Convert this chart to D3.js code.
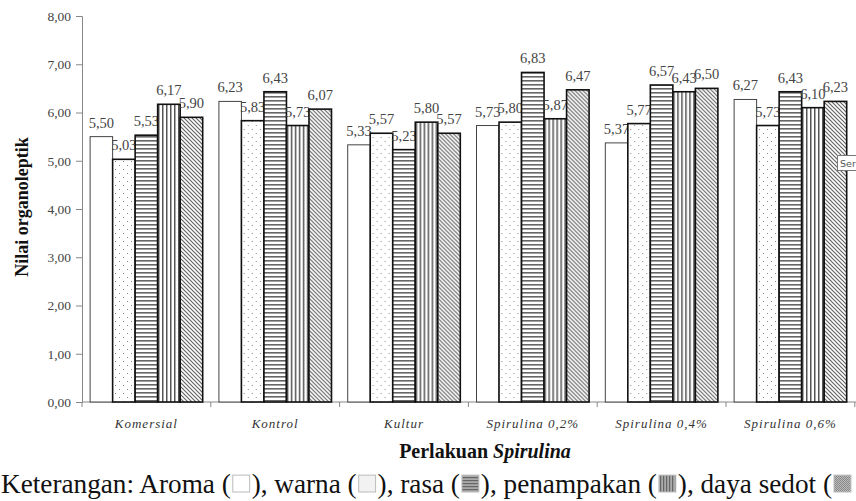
<!DOCTYPE html>
<html>
<head>
<meta charset="utf-8">
<script src="https://cdn.jsdelivr.net/npm/d3@7/dist/d3.min.js"></script>
<style>
  body { margin: 0; background: #fff; }
</style>
</head>
<body>
<div id="chart"></div>
<script>
// data
var categories = ["Komersial", "Kontrol", "Kultur", "Spirulina 0,2%", "Spirulina 0,4%", "Spirulina 0,6%"];
var series = ["Aroma", "warna", "rasa", "penampakan", "daya sedot"];
var aroma      = [5.50, 6.23, 5.33, 5.73, 5.37, 6.27];
var warna      = [5.03, 5.83, 5.57, 5.80, 5.77, 5.73];
var rasa       = [5.53, 6.43, 5.23, 6.83, 6.57, 6.43];
var penampakan = [6.17, 5.73, 5.80, 5.87, 6.43, 6.10];
var dayaSedot  = [5.90, 6.07, 5.57, 6.47, 6.50, 6.23];
var yTicks = [0, 1, 2, 3, 4, 5, 6, 7, 8];

var values = [aroma, warna, rasa, penampakan, dayaSedot];
var SERIF = "'Liberation Serif'";

var W = 856, H = 501;
var svg = d3.select("#chart").append("svg").attr("width", W).attr("height", H);

// patterns
var defs = svg.append("defs");
function pat(id, size, draw) {
    var p = defs.append("pattern").attr("id", id)
        .attr("patternUnits", "userSpaceOnUse")
        .attr("width", size).attr("height", size);
    p.append("rect").attr("width", size).attr("height", size).attr("fill", "#fff");
    draw(p);
}
pat("p-dots", 8, function(p) {
    p.append("rect").attr("x", 1).attr("y", 1).attr("width", 1).attr("height", 1).attr("fill", "#888");
    p.append("rect").attr("x", 5).attr("y", 5).attr("width", 1).attr("height", 1).attr("fill", "#888");
});
pat("p-horiz", 4, function(p) {
    p.append("rect").attr("x", 0).attr("y", 0).attr("width", 4).attr("height", 1.6).attr("fill", "#666");
});
pat("p-vert", 4, function(p) {
    p.append("rect").attr("x", 0).attr("y", 0).attr("width", 1.5).attr("height", 4).attr("fill", "#555");
});
pat("p-diag", 4, function(p) {
    p.append("path").attr("d", "M0,0 L4,4 M-1,3 L1,5 M3,-1 L5,1")
        .attr("stroke", "#666").attr("stroke-width", 1.2);
});
pat("c-horiz", 3, function(p) {
    p.append("rect").attr("width", 3).attr("height", 3).attr("fill", "#aaa");
    p.append("rect").attr("width", 3).attr("height", 1.2).attr("fill", "#666");
});
pat("c-vert", 3, function(p) {
    p.append("rect").attr("width", 3).attr("height", 3).attr("fill", "#aaa");
    p.append("rect").attr("width", 1.2).attr("height", 3).attr("fill", "#666");
});
pat("c-diag", 2, function(p) {
    p.append("rect").attr("width", 2).attr("height", 2).attr("fill", "#bbb");
    p.append("rect").attr("width", 1).attr("height", 1).attr("fill", "#888");
    p.append("rect").attr("x", 1).attr("y", 1).attr("width", 1).attr("height", 1).attr("fill", "#888");
});
var fills = ["#fff", "url(#p-dots)", "url(#p-horiz)", "url(#p-vert)", "url(#p-diag)"];

var margin = {left: 82, top: 16, bottom: 402};
var groupW = 128.8;
var x0 = d3.scaleBand().domain(categories)
    .range([margin.left, margin.left + groupW * categories.length]);
var x1 = d3.scaleBand().domain(series).range([0, x0.bandwidth()]).paddingOuter(0.36);
var y = d3.scaleLinear().domain([0, 8]).range([margin.bottom, margin.top]);

// y axis
var yAxis = d3.axisLeft(y).tickValues(yTicks).tickSize(6)
    .tickFormat(function(d) { return d3.format(".2f")(d).replace(".", ","); });
var gy = svg.append("g").attr("transform", "translate(" + margin.left + ",0)").call(yAxis);
gy.select(".domain").attr("stroke", "#888");
gy.selectAll(".tick line").attr("stroke", "#888");
gy.selectAll(".tick text").attr("font-size", 13.5).attr("fill", "#444").attr("x", -11);

// x axis line and group ticks
svg.append("line").attr("x1", margin.left).attr("x2", W)
    .attr("y1", margin.bottom).attr("y2", margin.bottom).attr("stroke", "#888");
var edges = categories.map(function(c) { return x0(c); });
edges.push(x0(categories[categories.length - 1]) + x0.bandwidth());
svg.selectAll(".gtick").data(edges).enter().append("line")
    .attr("x1", function(d) { return d; }).attr("x2", function(d) { return d; })
    .attr("y1", margin.bottom).attr("y2", margin.bottom + 5).attr("stroke", "#888");

svg.selectAll(".cat").data(categories).enter().append("text")
    .attr("x", function(d) { return x0(d) + x0.bandwidth() / 2; })
    .attr("y", 428).attr("text-anchor", "middle")
    .attr("font-size", 13).attr("font-style", "italic").attr("fill", "#333")
    .attr("letter-spacing", 1)
    .text(function(d) { return d; });

// bars
var groups = svg.selectAll(".grp").data(categories).enter().append("g")
    .attr("transform", function(d) { return "translate(" + x0(d) + ",0)"; });
groups.each(function(cat, ci) {
    var g = d3.select(this);
    series.forEach(function(s, si) {
        var v = values[si][ci];
        g.append("rect")
            .attr("x", x1(s)).attr("width", x1.bandwidth())
            .attr("y", y(v)).attr("height", y(0) - y(v))
            .attr("fill", fills[si])
            .attr("stroke", si == 0 ? "#444" : "#111")
            .attr("stroke-width", si == 0 ? 1 : 1.6);
        g.append("text")
            .attr("x", x1(s) + x1.bandwidth() / 2)
            .attr("y", y(v) - 9).attr("text-anchor", "middle")
            .attr("font-size", 14.5).attr("fill", "#444")
            .text(d3.format(".2f")(v).replace(".", ","));
    });
});

// axis titles
svg.append("text").attr("transform", "translate(28,207) rotate(-90)")
    .attr("text-anchor", "middle").attr("font-size", 18).attr("font-weight", "bold")
    .attr("fill", "#111").text("Nilai organoleptik");

var xt = svg.append("text").attr("x", 485).attr("y", 458).attr("text-anchor", "middle")
    .attr("font-size", 20).attr("font-weight", "bold").attr("fill", "#111");
xt.append("tspan").text("Perlakuan ");
xt.append("tspan").attr("font-style", "italic").text("Spirulina");

// every text in the serif face
svg.selectAll("text").style("font-family", SERIF);

// Excel tooltip fragment at the right edge ("Ser...")
svg.append("rect").attr("x", 837.5).attr("y", 155.5).attr("width", 30).attr("height", 15)
    .attr("fill", "#fff").attr("stroke", "#777");
svg.append("text").attr("x", 840).attr("y", 167).attr("font-size", 9.5)
    .style("font-family", "'DejaVu Sans'").attr("fill", "#555").text("Ser");

// caption line
var capFills = ["#fff", "#f2f2f2", "url(#c-horiz)", "url(#c-vert)", "url(#c-diag)"];
var parts = ["Keterangan: Aroma (", "), warna (", "), rasa (", "), penampakan (", "), daya sedot ("];
function drawCaption(fs) {
    svg.selectAll(".cap").remove();
    var cap = svg.append("g").attr("class", "cap");
    var cx = 1;
    var sq = fs * 0.62;
    parts.forEach(function(t, i) {
        var tx = cap.append("text").attr("x", cx).attr("y", 493).attr("font-size", fs)
            .style("font-family", SERIF).attr("fill", "#111").text(t);
        cx += tx.node().getComputedTextLength() + 2;
        cap.append("rect").attr("x", cx).attr("y", 493 - sq - 1).attr("width", sq).attr("height", sq)
            .attr("fill", capFills[i]).attr("stroke", "#bbb");
        if (i < parts.length - 1) cx += sq + 2;
    });
    return cx;
}
var fs0 = 24;
var endX = drawCaption(fs0);
drawCaption(fs0 * 837 / endX);
</script>
</body>
</html>
